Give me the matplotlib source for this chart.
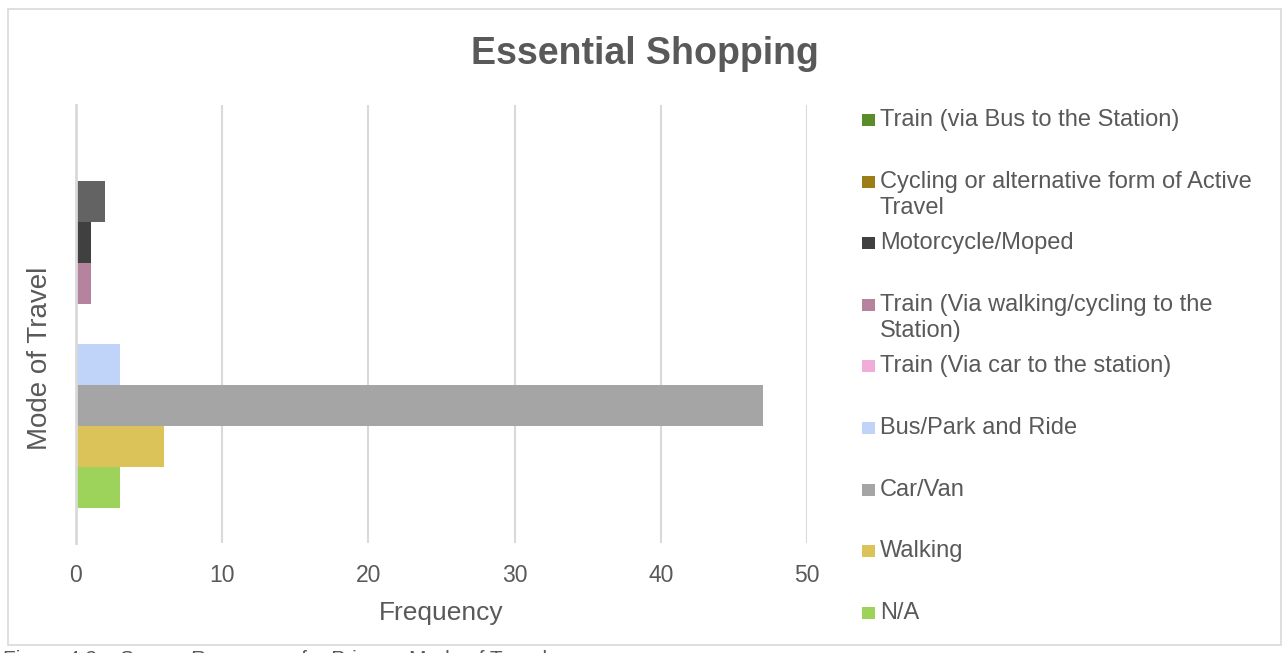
import matplotlib
matplotlib.use("Agg")
import matplotlib.pyplot as plt
from matplotlib.patches import Rectangle

plt.rcParams['font.family'] = ['Liberation Sans', 'DejaVu Sans']

# Series in drawing order, bottom bar first
modes = ["N/A", "Walking", "Car/Van", "Bus/Park and Ride",
         "Train (Via car to the station)",
         "Train (Via walking/cycling to the\nStation)",
         "Motorcycle/Moped",
         "Cycling or alternative form of Active\nTravel",
         "Train (via Bus to the Station)"]
counts = [3, 6, 47, 3, 0, 1, 1, 2, 0]
bar_colors = ["#9dd35a", "#dbc35a", "#a5a5a5", "#c0d3f8", "#f1acd9",
              "#b5839e", "#404040", "#636363", "#5b8c2a"]
key_colors = ["#9dd35a", "#dbc35a", "#a5a5a5", "#c0d3f8", "#f1acd9",
              "#b5839e", "#404040", "#9b7e18", "#5b8c2a"]
x_ticks = [0, 10, 20, 30, 40, 50]

W, H = 1284, 653
TXT = "#595959"
GRID = "#d9d9d9"

fig = plt.figure(figsize=(W / 100, H / 100), dpi=100)
fig.patch.set_facecolor("white")

def fx(px):
    return px / W

def fy(py):
    return 1 - py / H

# outer chart frame
fig.add_artist(Rectangle((fx(8), fy(645)), fx(1281) - fx(8), fy(9) - fy(645),
                         transform=fig.transFigure, fill=False,
                         edgecolor=GRID, linewidth=1.2))

ax = fig.add_axes([fx(76), fy(543), fx(807) - fx(76), fy(105) - fy(543)])
pos = list(range(len(counts)))
ax.barh(pos, counts, height=1.0, color=bar_colors, zorder=3)

gap = 0.855
ax.set_ylim(-0.5 - gap, len(counts) - 0.5 + gap)
ax.set_xlim(0, 50)
ax.set_xticks(x_ticks)
ax.set_xticklabels([str(t) for t in x_ticks], fontsize=16.5, color=TXT)
ax.set_yticks([])
ax.tick_params(axis="x", length=0, pad=15)
ax.grid(axis="x", color=GRID, linewidth=1.5, zorder=0)
for side in ["top", "right", "bottom"]:
    ax.spines[side].set_visible(False)
ax.spines["left"].set_color(GRID)
ax.spines["left"].set_linewidth(2)
ax.spines["left"].set_zorder(4)

ax.set_xlabel("Frequency", fontsize=19, color=TXT, labelpad=10)
fig.text(fx(40), fy(358), "Mode of Travel", fontsize=20, color=TXT,
         rotation=90, ha="center", va="center")

fig.text(fx(645), fy(54), "Essential Shopping", fontsize=27, fontweight="bold",
         color=TXT, ha="center", va="center")

# legend, top entry first
first_y, step = 120, 61.6
for i, idx in enumerate(reversed(pos)):
    cy = first_y + i * step
    fig.add_artist(Rectangle((fx(862), fy(cy + 6)), fx(13), fy(cy - 6) - fy(cy + 6),
                             transform=fig.transFigure, color=key_colors[idx],
                             linewidth=0))
    for j, line in enumerate(modes[idx].split("\n")):
        fig.text(fx(880), fy(cy + j * 26), line, fontsize=17, color=TXT,
                 ha="left", va="center")

# figure caption below the chart frame, running off the bottom edge
fig.text(fx(3), fy(650), "Figure 4.2 \u2013 Survey Responses for Primary Mode of Travel",
         fontsize=15, color=TXT, ha="left", va="top")

fig.savefig("out.png", dpi=100)
